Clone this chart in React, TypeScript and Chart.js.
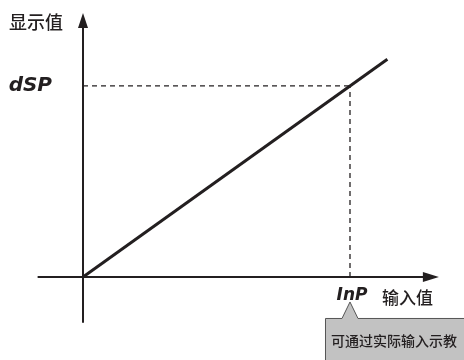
import React, { useEffect, useRef } from "react";
import { Chart, registerables } from "chart.js";

Chart.register(...registerables);

// ---- data (domain units: InP = 1 on x, dSP = 1 on y) ----
const lineX = [0, 1.14];
const lineY = [0, 1.14];
const inpValue = 1;
const dspValue = 1;
const xAxisSpan = [-0.17, 1.333];
const yAxisSpan = [-0.24, 1.382];
const xView = [-0.3109, 1.427];
const yView = [-0.4346, 1.45];

const yAxisTitle = "显示值";
const xAxisTitle = "输入值";
const dspLabel = "dSP";
const inpLabel = "InP";
const calloutText = "可通过实际输入示教";

const INK = "#231f20";

const annotate = {
  id: "annotate",
  afterDatasetsDraw(chart: any) {
    const { ctx, scales } = chart;
    const xs = scales.x;
    const ys = scales.y;
    const ox = xs.getPixelForValue(0);
    const oy = ys.getPixelForValue(0);
    const xEnd = xs.getPixelForValue(xAxisSpan[1]);
    const yEnd = ys.getPixelForValue(yAxisSpan[1]);
    const px = xs.getPixelForValue(inpValue);
    const py = ys.getPixelForValue(dspValue);

    ctx.save();
    ctx.fillStyle = INK;
    // arrow on y axis
    ctx.beginPath();
    ctx.moveTo(ox, yEnd);
    ctx.lineTo(ox - 5, yEnd + 15);
    ctx.lineTo(ox + 5, yEnd + 15);
    ctx.closePath();
    ctx.fill();
    // arrow on x axis
    ctx.beginPath();
    ctx.moveTo(xEnd, oy);
    ctx.lineTo(xEnd - 16, oy - 5);
    ctx.lineTo(xEnd - 16, oy + 5);
    ctx.closePath();
    ctx.fill();

    // texts
    ctx.fillStyle = INK;
    ctx.textBaseline = "middle";
    ctx.font = '500 18px "Noto Sans CJK SC"';
    ctx.textAlign = "right";
    ctx.fillText(yAxisTitle, ox - 20, yEnd + 9);
    ctx.font = '500 17px "Noto Sans CJK SC"';
    ctx.textAlign = "left";
    ctx.fillText(xAxisTitle, xEnd - 57, oy + 21);

    ctx.font = 'italic bold 20px "DejaVu Sans"';
    ctx.textAlign = "right";
    ctx.fillText(dspLabel, ox - 31, py);
    ctx.font = 'italic bold 17px "DejaVu Sans"';
    ctx.textAlign = "center";
    ctx.fillText(inpLabel, px + 2, oy + 19);

    // callout
    const bx = px - 25;
    const by = oy + 41;
    ctx.fillStyle = "#c2c2c2";
    ctx.strokeStyle = "#555555";
    ctx.lineWidth = 1;
    ctx.beginPath();
    ctx.moveTo(bx + 0.5, by + 0.5);
    ctx.lineTo(px - 8, by + 0.5);
    ctx.lineTo(px, by - 16);
    ctx.lineTo(px + 8, by + 0.5);
    ctx.lineTo(bx + 160, by + 0.5);
    ctx.lineTo(bx + 160, by + 60);
    ctx.lineTo(bx + 0.5, by + 60);
    ctx.closePath();
    ctx.fill();
    ctx.stroke();
    ctx.fillStyle = INK;
    ctx.font = '500 14px "Noto Sans CJK SC"';
    ctx.textAlign = "left";
    ctx.fillText(calloutText, bx + 6, by + 23);
    ctx.restore();
  },
};

export default function App() {
  const ref = useRef<HTMLCanvasElement>(null);
  useEffect(() => {
    if (!ref.current) return;
    const solid = (data: any[], w: number) => ({
      data,
      showLine: true,
      borderColor: INK,
      borderWidth: w,
      pointRadius: 0,
      fill: false,
    });
    const dashed = (data: any[]) => ({
      ...solid(data, 1.3),
      borderDash: [5, 4],
    });
    const chart = new Chart(ref.current, {
      type: "scatter",
      data: {
        datasets: [
          dashed([
            { x: 0, y: dspValue },
            { x: inpValue, y: dspValue },
          ]),
          dashed([
            { x: inpValue, y: 0 },
            { x: inpValue, y: dspValue },
          ]),
          solid(
            [
              { x: xAxisSpan[0], y: 0 },
              { x: xAxisSpan[1] - 0.05, y: 0 },
            ],
            2
          ),
          solid(
            [
              { x: 0, y: yAxisSpan[0] },
              { x: 0, y: yAxisSpan[1] - 0.06 },
            ],
            2
          ),
          solid(
            lineX.map((x, i) => ({ x, y: lineY[i] })),
            3
          ),
        ] as any,
      },
      options: {
        animation: false,
        responsive: false,
        maintainAspectRatio: false,
        layout: { padding: 0 },
        plugins: { legend: { display: false }, tooltip: { enabled: false } },
        scales: {
          x: { type: "linear", display: false, min: xView[0], max: xView[1] },
          y: { type: "linear", display: false, min: yView[0], max: yView[1] },
        },
      },
      plugins: [annotate],
    });
    return () => chart.destroy();
  }, []);
  return (
    <div style={{ position: "fixed", left: 0, top: 0, width: 464, height: 360, background: "#fff" }}>
      <canvas ref={ref} width={464} height={360} />
    </div>
  );
}
